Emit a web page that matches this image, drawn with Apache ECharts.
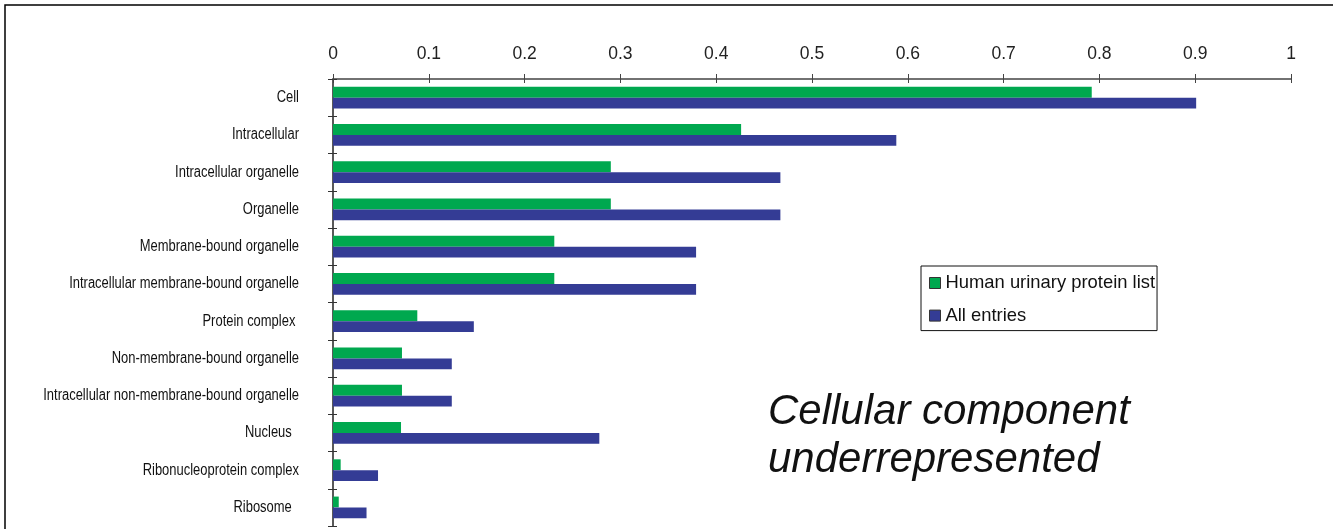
<!DOCTYPE html>
<html>
<head>
<meta charset="utf-8">
<script src="https://cdn.jsdelivr.net/npm/echarts@6/dist/echarts.min.js"></script>
<style>
  html, body { margin: 0; padding: 0; background: #fff; }
  #chart { width: 1333px; height: 529px; }
</style>
</head>
<body>
<div id="chart"></div>
<script>
// GO cellular component terms, top to bottom
const categories = [
  'Cell',
  'Intracellular',
  'Intracellular organelle',
  'Organelle',
  'Membrane-bound organelle',
  'Intracellular membrane-bound organelle',
  'Protein complex ',
  'Non-membrane-bound organelle',
  'Intracellular non-membrane-bound organelle',
  'Nucleus  ',
  'Ribonucleoprotein complex',
  'Ribosome  '
];

// Fraction of proteins annotated with each term
const urinaryValues = [0.792, 0.426, 0.290, 0.290, 0.231, 0.231, 0.088, 0.072, 0.072, 0.071, 0.008, 0.006];
const allEntriesValues = [0.901, 0.588, 0.467, 0.467, 0.379, 0.379, 0.147, 0.124, 0.124, 0.278, 0.047, 0.035];

const seriesNames = ['Human urinary protein list', 'All entries'];
const xTicks = { min: 0, max: 1, interval: 0.1 };

const GREEN = '#00A84F';
const BLUE = '#343C95';
const SANS = '"Liberation Sans", Arial, sans-serif';

const chart = echarts.init(document.getElementById('chart'), null, { renderer: 'canvas' });

// page frame and the panel caption
const frame = {
  type: 'rect',
  silent: true,
  z: -10,
  shape: { x: 5, y: 5, width: 1500, height: 700 },
  style: { fill: 'none', stroke: '#000', lineWidth: 1.5 }
};
const caption = {
  type: 'text',
  left: 768,
  top: 388,
  style: {
    text: 'Cellular component\nunderrepresented',
    font: 'italic 42px "Liberation Sans", Arial, sans-serif',
    fill: '#111',
    lineHeight: 48
  }
};

chart.setOption({
  animation: false,
  backgroundColor: '#ffffff',
  grid: { left: 333, top: 79, right: 42, bottom: 3, containLabel: false },
  legend: {
    orient: 'vertical',
    left: 921,
    top: 266,
    padding: [8, 2, 6, 8],
    itemGap: 14.6,
    itemWidth: 11,
    itemHeight: 11,
    icon: 'rect',
    borderColor: '#111',
    borderWidth: 1,
    backgroundColor: '#fff',
    itemStyle: { borderColor: '#333', borderWidth: 1 },
    textStyle: { fontFamily: SANS, fontSize: 18.4, color: '#111' },
    data: seriesNames
  },
  xAxis: [
    {
      type: 'value',
      position: 'top',
      min: xTicks.min, max: xTicks.max, interval: xTicks.interval,
      axisLine: { show: true, lineStyle: { color: '#444', width: 1.5 } },
      axisTick: { show: true, inside: false, length: 5, lineStyle: { color: '#444', width: 1 } },
      axisLabel: { fontFamily: SANS, fontSize: 17.5, color: '#222', margin: 16 },
      splitLine: { show: false }
    },
    {
      // inner half of the crossing tick marks
      type: 'value',
      position: 'top',
      min: xTicks.min, max: xTicks.max, interval: xTicks.interval,
      axisLine: { show: false },
      axisTick: { show: true, inside: true, length: 4, lineStyle: { color: '#444', width: 1 } },
      axisLabel: { show: false },
      splitLine: { show: false }
    }
  ],
  yAxis: [
    {
      type: 'category',
      inverse: true,
      data: categories,
      axisLine: { show: true, lineStyle: { color: '#222', width: 1.5 } },
      axisTick: { show: true, inside: false, length: 5, lineStyle: { color: '#333', width: 1 } },
      axisLabel: { show: false },
      splitLine: { show: false }
    },
    {
      type: 'category',
      inverse: true,
      position: 'left',
      data: categories,
      axisLine: { show: false },
      axisTick: { show: true, inside: true, length: 4, lineStyle: { color: '#333', width: 1 } },
      axisLabel: { show: false },
      splitLine: { show: false }
    }
  ],
  series: [
    {
      name: seriesNames[0],
      type: 'bar',
      xAxisIndex: 0, yAxisIndex: 0,
      data: urinaryValues,
      itemStyle: { color: GREEN },
      barGap: '0%',
      barCategoryGap: '42%'
    },
    {
      name: seriesNames[1],
      type: 'bar',
      xAxisIndex: 0, yAxisIndex: 0,
      data: allEntriesValues,
      itemStyle: { color: BLUE },
      barGap: '0%',
      barCategoryGap: '42%'
    }
  ],
  graphic: [frame, caption]
});

// Category names in a narrow face: Liberation Sans compressed horizontally,
// placed at each band centre as reported by the y axis.
const labelRight = chart.convertToPixel({ xAxisIndex: 0 }, 0) - 34;
const categoryLabels = categories.map(function (name, i) {
  return {
    type: 'text',
    silent: true,
    x: labelRight,
    y: chart.convertToPixel({ yAxisIndex: 0 }, i),
    scaleX: 0.81,
    style: {
      text: name,
      font: '16px "Liberation Sans", Arial, sans-serif',
      fill: '#111',
      align: 'right',
      verticalAlign: 'middle'
    }
  };
});

chart.setOption({ graphic: [frame, caption].concat(categoryLabels) });
</script>
</body>
</html>
